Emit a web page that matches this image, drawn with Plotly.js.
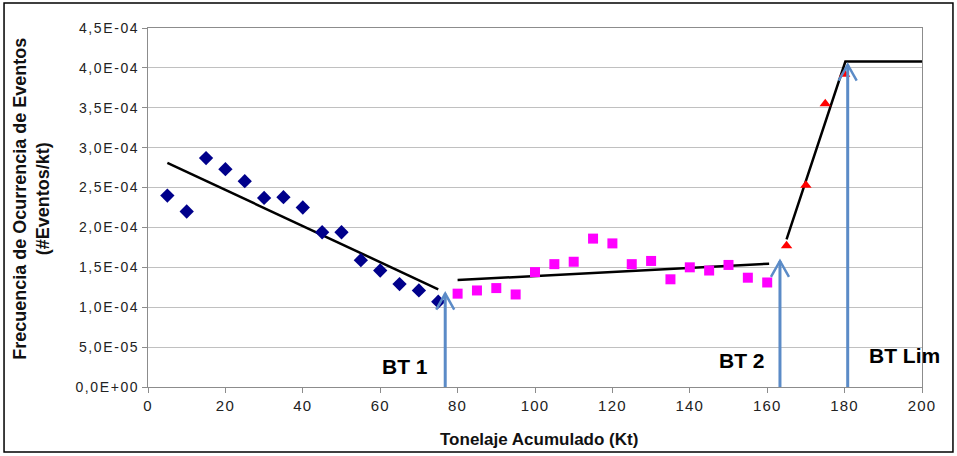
<!DOCTYPE html>
<html>
<head>
<meta charset="utf-8">
<script src="https://cdn.plot.ly/plotly-3.0.1.min.js"></script>
<style>
html,body{margin:0;padding:0;background:#fff;}
#chart{width:957px;height:456px;}
#chart .ytick text{letter-spacing:1.6px;}
#chart .xtick text{letter-spacing:1.2px;}
</style>
</head>
<body>
<div id="chart"></div>
<script>
// ---- data ----
var xBT1 = [5,10,15,20,25,30,35,40,45,50,55,60,65,70,75];
var yBT1 = [2.40e-4,2.20e-4,2.87e-4,2.73e-4,2.58e-4,2.37e-4,2.38e-4,2.25e-4,1.94e-4,1.94e-4,1.59e-4,1.46e-4,1.29e-4,1.21e-4,1.07e-4];

var xBT2 = [80,85,90,95,100,105,110,115,120,125,130,135,140,145,150,155,160];
var yBT2 = [1.17e-4,1.21e-4,1.24e-4,1.16e-4,1.44e-4,1.54e-4,1.57e-4,1.86e-4,1.80e-4,1.54e-4,1.58e-4,1.35e-4,1.50e-4,1.46e-4,1.53e-4,1.37e-4,1.31e-4];

var xLim = [165,170,175,180];
var yLim = [1.77e-4,2.53e-4,3.55e-4,3.92e-4];

var xTrend1 = [5,75];
var yTrend1 = [2.81e-4,1.225e-4];
var xTrend2 = [80,160.5];
var yTrend2 = [1.34e-4,1.545e-4];
var xTrend3 = [165,180.2,200];
var yTrend3 = [1.85e-4,4.08e-4,4.08e-4];

var arrowX = [76.8,163.3,180.8];
var arrowY = [1.17e-4,1.58e-4,4.04e-4];

var labelText = ['BT 1','BT 2','BT Lim'];
var labelX = [66.4,153.4,195.4];
var labelY = [2.6e-5,3.3e-5,3.95e-5];

var yTickVals = [0,5e-5,1e-4,1.5e-4,2e-4,2.5e-4,3e-4,3.5e-4,4e-4,4.5e-4];
var yTickText = ['0,0E+00','5,0E-05','1,0E-04','1,5E-04','2,0E-04','2,5E-04','3,0E-04','3,5E-04','4,0E-04','4,5E-04'];
var xTickVals = [0,20,40,60,80,100,120,140,160,180,200];

var xTitle = 'Tonelaje Acumulado (Kt)';
var yTitle = 'Frecuencia de Ocurrencia de Eventos<br>(#Eventos/kt)';

// ---- chart ----
var FONT = 'Arial, "Liberation Sans", sans-serif';
var arrowColor = '#5B8BC7';

var W = 957, H = 456, M = {l:148, r:35, t:28, b:69};
var xRange = [0,200], yRange = [0,4.5e-4];
var pxX = (xRange[1]-xRange[0]) / (W - M.l - M.r);
var pxY = (yRange[1]-yRange[0]) / (H - M.t - M.b);
var wingDX = 9 * pxX, wingDY = 16 * pxY;

var traces = [
  {x:xTrend1, y:yTrend1, mode:'lines', line:{color:'#000', width:2.5}, hoverinfo:'skip'},
  {x:xTrend2, y:yTrend2, mode:'lines', line:{color:'#000', width:2.5}, hoverinfo:'skip'},
  {x:xTrend3, y:yTrend3, mode:'lines', line:{color:'#000', width:2.5}, hoverinfo:'skip'},
  {x:xBT1, y:yBT1, mode:'markers', marker:{symbol:'diamond', color:'#00008B', size:11}},
  {x:xBT2, y:yBT2, mode:'markers', marker:{symbol:'square', color:'#FF00FF', size:10}},
  {x:xLim, y:yLim, mode:'markers', marker:{symbol:'triangle-up', color:'#FF0000', size:10}}
];

var shapes = [];
for (var i = 0; i < arrowX.length; i++) {
  var ax = arrowX[i], ay = arrowY[i];
  shapes.push({type:'path', xref:'x', yref:'y', layer:'above',
    path:'M'+ax+','+yRange[0]+' L'+ax+','+ay,
    line:{color:arrowColor, width:3}});
  shapes.push({type:'path', xref:'x', yref:'y', layer:'above',
    path:'M'+(ax-wingDX)+','+(ay-wingDY)+' L'+ax+','+ay+' L'+(ax+wingDX)+','+(ay-wingDY),
    line:{color:arrowColor, width:2.5}});
}
shapes.push({type:'rect', xref:'paper', yref:'paper', x0:-0.186, x1:1.040, y0:-0.181, y1:1.0696,
    line:{color:'#000', width:1.5}, fillcolor:'rgba(0,0,0,0)', layer:'above'});

var annotations = [];
for (var j = 0; j < labelText.length; j++) {
  annotations.push({x:labelX[j], y:labelY[j], xref:'x', yref:'y', text:'<b>'+labelText[j]+'</b>',
    showarrow:false, font:{family:FONT, size:21, color:'#000'}});
}
annotations.push({x:0.505, y:-0.1476, xref:'paper', yref:'paper', xanchor:'center', yanchor:'middle',
  text:'<b>'+xTitle+'</b>', showarrow:false, font:{family:FONT, size:17, color:'#111'}});
annotations.push({x:-0.15, y:0.524, xref:'paper', yref:'paper', xanchor:'center', yanchor:'middle',
  textangle:-90, text:'<b>'+yTitle+'</b>', showarrow:false, font:{family:FONT, size:18, color:'#111'}});

var layout = {
  width:W, height:H,
  margin:M,
  paper_bgcolor:'#fff', plot_bgcolor:'#fff',
  showlegend:false,
  font:{family:FONT, size:14, color:'#222'},
  xaxis:{range:xRange, tickvals:xTickVals, showgrid:false, zeroline:false,
    showline:true, linecolor:'#8C8C8C', linewidth:1, mirror:true,
    ticks:'outside', ticklen:5, tickcolor:'#8C8C8C',
    tickfont:{family:FONT, size:15, color:'#222'}},
  yaxis:{range:yRange, tickvals:yTickVals, ticktext:yTickText, showgrid:true, gridcolor:'#C0C0C0', gridwidth:1,
    zeroline:false, showline:true, linecolor:'#8C8C8C', linewidth:1, mirror:true,
    ticks:'outside', ticklen:5, tickcolor:'#8C8C8C',
    tickfont:{family:FONT, size:14, color:'#222'}},
  annotations:annotations,
  shapes:shapes
};

Plotly.newPlot('chart', traces, layout, {displayModeBar:false, staticPlot:true});
</script>
</body>
</html>
